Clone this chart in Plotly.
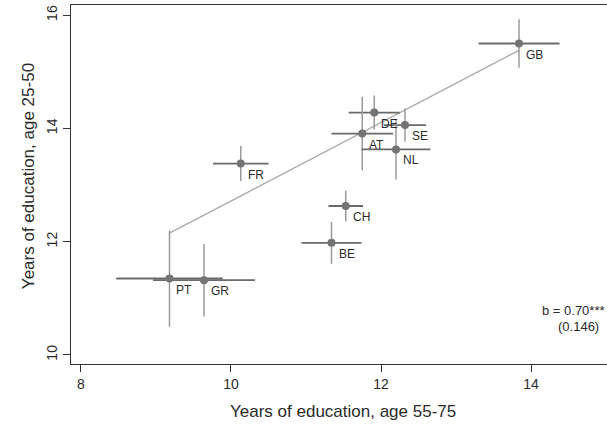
import plotly.graph_objects as go

countries = ["GB", "DE", "SE", "AT", "NL", "CH", "BE", "FR", "PT", "GR"]
edu_old = [13.84, 11.91, 12.32, 11.75, 12.20, 11.53, 11.34, 10.13, 9.18, 9.64]
edu_young = [15.50, 14.28, 14.06, 13.91, 13.63, 12.63, 11.98, 13.38, 11.35, 11.32]
err_old = [0.54, 0.34, 0.28, 0.41, 0.46, 0.23, 0.40, 0.37, 0.71, 0.68]
err_young = [0.43, 0.30, 0.29, 0.65, 0.53, 0.27, 0.37, 0.31, 0.85, 0.64]

fit_x = [9.18, 13.84]
fit_y = [12.15, 15.38]

x_ticks = [8, 10, 12, 14]
y_ticks = [10, 12, 14, 16]

font_fam = "Liberation Sans, Arial, Helvetica, sans-serif"
text_col = "#2b2b2b"

fig = go.Figure()

fig.add_trace(go.Scatter(
    x=fit_x, y=fit_y, mode="lines",
    line=dict(color="#a9a9a9", width=1.3),
    hoverinfo="skip", showlegend=False,
))

fig.add_trace(go.Scatter(
    x=edu_old, y=edu_young, mode="markers",
    marker=dict(color="#737373", size=8),
    error_x=dict(type="data", array=err_old, color="#6a6a6a", thickness=1.8, width=0),
    error_y=dict(type="data", array=err_young, color="#9a9a9a", thickness=1.5, width=0),
    showlegend=False,
))

for c, xv, yv in zip(countries, edu_old, edu_young):
    fig.add_annotation(x=xv, y=yv, xref="x", yref="y", text=c, showarrow=False,
                       xanchor="left", yanchor="middle", xshift=5, yshift=-11,
                       font=dict(family=font_fam, size=12, color=text_col))

fig.add_annotation(x=1.0, xref="paper", xanchor="right", xshift=0,
                   y=10.79, yref="y", yanchor="middle",
                   text="b = 0.70***", showarrow=False,
                   font=dict(family=font_fam, size=13, color=text_col))
fig.add_annotation(x=1.0, xref="paper", xanchor="right", xshift=-6,
                   y=10.50, yref="y", yanchor="middle",
                   text="(0.146)", showarrow=False,
                   font=dict(family=font_fam, size=13, color=text_col))

# axis titles
fig.add_annotation(x=11.49, xref="x", y=-0.131, yref="paper", xanchor="center",
                   yanchor="middle", showarrow=False,
                   text="Years of education, age 55-75",
                   font=dict(family=font_fam, size=17, color=text_col))
fig.add_annotation(x=-0.08, xref="paper", y=13.16, yref="y", xanchor="center",
                   yanchor="middle", showarrow=False, textangle=-90,
                   text="Years of education, age 25-50",
                   font=dict(family=font_fam, size=17, color=text_col))

fig.update_layout(
    width=607, height=424,
    margin=dict(l=71, r=0, t=5, b=60),
    plot_bgcolor="white", paper_bgcolor="white",
    font=dict(family=font_fam, color=text_col),
    hovermode=False,
    xaxis=dict(
        range=[7.867, 15.013], tickvals=x_ticks, ticks="outside", ticklen=7,
        tickcolor="#333", showgrid=False, zeroline=False,
        showline=True, linecolor="#333", linewidth=1.3, mirror=True,
        tickfont=dict(size=14),
    ),
    yaxis=dict(
        range=[9.84, 16.18], tickvals=y_ticks, ticks="outside", ticklen=7,
        tickcolor="#333", showgrid=False, zeroline=False,
        showline=True, linecolor="#333", linewidth=1.3,
        tickangle=-90, tickfont=dict(size=14),
    ),
)

fig.write_html("out.html", config={"displayModeBar": False},
               post_script="document.body.style.margin='0';")
